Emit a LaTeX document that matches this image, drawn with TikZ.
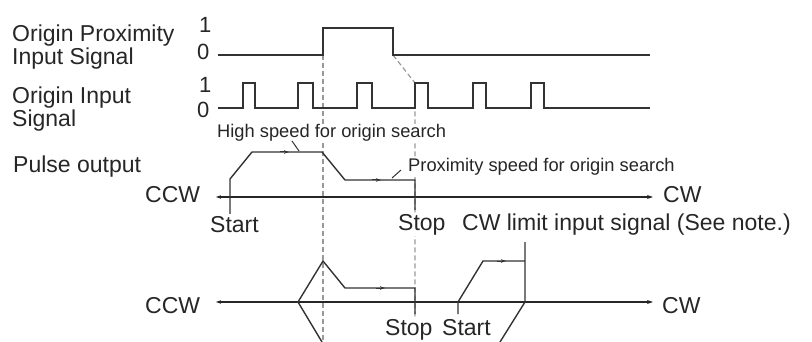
\documentclass[tikz,border=0pt]{standalone}
\usepackage{fontspec}
\setmainfont{Liberation Sans}
\usetikzlibrary{arrows.meta}
\begin{document}
\begin{tikzpicture}[x=1pt,y=-1pt,
  sig/.style={line width=1.4pt, draw=black!80, line join=miter},
  guide/.style={line width=1.2pt, draw=black!40, dash pattern=on 5pt off 3pt},
  big/.style={font=\fontsize{23}{23}\selectfont, text=black!85, inner sep=0pt, anchor=base west},
  small/.style={font=\fontsize{18.3}{18.3}\selectfont, text=black!85, inner sep=0pt, anchor=base west},
  digit/.style={font=\fontsize{22}{22}\selectfont, text=black!85, inner sep=0pt, anchor=base west},
  mask/.style={fill=white, inner xsep=0pt, inner ysep=1pt},
  axisline/.style={line width=1.2pt, draw=black!85, {Stealth[length=5pt,width=3.5pt]}-{Stealth[length=6pt,width=4pt]}},
  dirarrow/.style={-{Stealth[length=5pt,width=3.5pt]}, line width=1pt, draw=black!80},
  leader/.style={line width=1pt, draw=black!80}
]
\useasboundingbox (0,0) rectangle (812,342);

% ---------- guide coordinates ----------
\coordinate (g1top) at (323,55);
\coordinate (g1bot) at (323,342);
\coordinate (g2top) at (393,55);
\coordinate (g2mid) at (415,83);
\coordinate (g2bot) at (415,342);

% dashed guide lines
\draw[guide] (g1top) -- (g1bot);
\draw[guide] (g2top) -- (g2mid) -- (g2bot);

% ---------- origin proximity input signal ----------
\draw[sig] (218,55) -- (323,55) -- (323,28) -- (393,28) -- (393,55) -- (650,55);

% ---------- origin input signal ----------
\draw[sig] (218,108) -- (243,108) -- (243,83) -- (255,83) -- (255,108)
  -- (298,108) -- (298,83) -- (313,83) -- (313,108)
  -- (357,108) -- (357,83) -- (372,83) -- (372,108)
  -- (415,108) -- (415,83) -- (428,83) -- (428,108)
  -- (473,108) -- (473,83) -- (486,83) -- (486,108)
  -- (531,108) -- (531,83) -- (544,83) -- (544,108) -- (650,108);

% ---------- upper pulse output ----------
\coordinate (ax1l) at (216,197);
\coordinate (ax1r) at (653,197);
\draw[axisline] (ax1l) -- (ax1r);
\draw[sig] (230,214) -- (230,179) -- (252,152) -- (322,152) -- (345,180) -- (415,180) -- (415,210);
\draw[dirarrow] (280,152) -- (289,152);
\draw[dirarrow] (372,180) -- (381,180);

% ---------- lower pulse output ----------
\coordinate (ax2l) at (216,302);
\coordinate (ax2r) at (653,302);
\draw[axisline] (ax2l) -- (ax2r);
\draw[sig] (322,342) -- (298,302) -- (323,261) -- (345,288) -- (415,288) -- (415,314);
\draw[dirarrow] (376,288) -- (385,288);
\draw[sig] (458,314) -- (458,302) -- (483,261) -- (525,261);
\draw[sig] (525,242) -- (525,302) -- (500,342);
\draw[dirarrow] (497,261) -- (506,261);

% ---------- labels ----------
\node[big] (l1a) at (12,42) {Origin Proximity};
\node[big] (l1b) at (12,65) {Input Signal};
\node[big] (l2a) at (12,104) {Origin Input};
\node[big] (l2b) at (12,127) {Signal};
\node[big] (l3) at (13,173) {Pulse output};

\node[digit] (d1a) at (199,33) {1};
\node[digit] (d0a) at (197,60) {0};
\node[digit] (d1b) at (199,93) {1};
\node[digit] (d0b) at (197,118) {0};

\node[small,mask] (hs) at (217,138) {High speed for origin search};
\node[small,mask] (ps) at (408,172) {Proximity speed for origin search};
\draw[leader] (292,141) -- (299,151);
\draw[leader] (392,178) -- (401,170);

\node[big] (ccw1) at (145,203) {CCW};
\node[big] (cw1) at (663,203) {CW};
\node[big] (start1) at (210,233) {Start};
\node[big,mask] (stop1) at (398,230) {Stop};
\node[big] (cwlim) at (462,230) {CW limit input signal (See note.)};

\node[big] (ccw2) at (145,313) {CCW};
\node[big] (cw2) at (662,313) {CW};
\node[big,mask] (stop2) at (385,335) {Stop};
\node[big] (start2) at (442,335) {Start};
\end{tikzpicture}
\end{document}
